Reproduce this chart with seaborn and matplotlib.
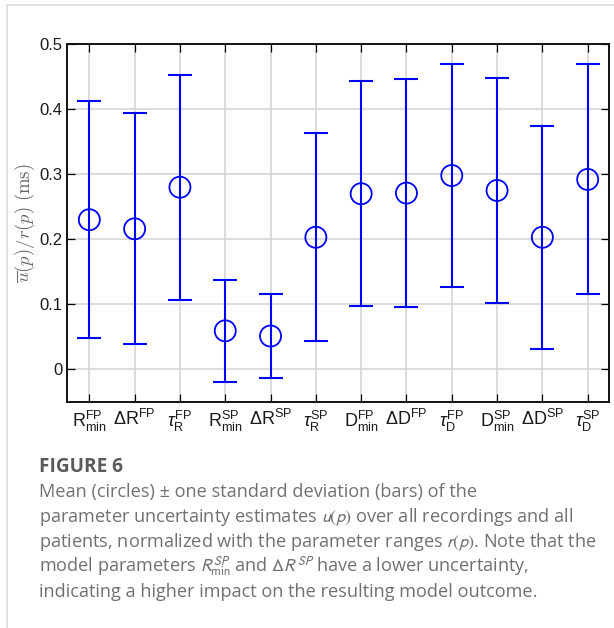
import seaborn as sns
import matplotlib.pyplot as plt
import pandas as pd
from matplotlib.lines import Line2D

params = [r'$\mathrm{R}^{\mathrm{FP}}_{\mathrm{min}}$', r'$\Delta\mathrm{R}^{\mathrm{FP}}$', r'$\tau^{\mathrm{FP}}_{\mathrm{R}}$',
          r'$\mathrm{R}^{\mathrm{SP}}_{\mathrm{min}}$', r'$\Delta\mathrm{R}^{\mathrm{SP}}$', r'$\tau^{\mathrm{SP}}_{\mathrm{R}}$',
          r'$\mathrm{D}^{\mathrm{FP}}_{\mathrm{min}}$', r'$\Delta\mathrm{D}^{\mathrm{FP}}$', r'$\tau^{\mathrm{FP}}_{\mathrm{D}}$',
          r'$\mathrm{D}^{\mathrm{SP}}_{\mathrm{min}}$', r'$\Delta\mathrm{D}^{\mathrm{SP}}$', r'$\tau^{\mathrm{SP}}_{\mathrm{D}}$']
mean_u = [0.230, 0.216, 0.280, 0.059, 0.051, 0.203, 0.270, 0.271, 0.298, 0.275, 0.203, 0.292]
std_u = [0.182, 0.178, 0.173, 0.078, 0.065, 0.160, 0.173, 0.176, 0.171, 0.173, 0.172, 0.177]
yticks = [0, 0.1, 0.2, 0.3, 0.4, 0.5]
ytick_labels = ['0', '0.1', '0.2', '0.3', '0.4', '0.5']

caption_title = 'FIGURE 6'
caption_lines = [
    'Mean (circles) \u00b1 one standard deviation (bars) of the',
    'parameter uncertainty estimates $u(p)$ over all recordings and all',
    'patients, normalized with the parameter ranges $r(p)$. Note that the',
    r'model parameters $R^{SP}_{\mathrm{min}}$ and $\Delta R^{SP}$ have a lower uncertainty,',
    'indicating a higher impact on the resulting model outcome.',
]

df = pd.DataFrame({'x': range(len(params)), 'mean': mean_u, 'std': std_u})

sns.set_theme(style='whitegrid')
plt.rcParams['font.family'] = ['Liberation Sans', 'DejaVu Sans']
plt.rcParams['mathtext.fontset'] = 'custom'
plt.rcParams['mathtext.rm'] = 'Liberation Sans'
plt.rcParams['mathtext.it'] = 'Liberation Sans:italic'
plt.rcParams['mathtext.bf'] = 'Liberation Sans:bold'

fig = plt.figure(figsize=(6.14, 6.28), dpi=100)
ax = fig.add_axes([0.1086, 0.3604, 0.8832, 0.5691])
ax.set_facecolor('white')

ax.errorbar(df['x'], df['mean'], yerr=df['std'], fmt='none', ecolor='#0000ff',
            elinewidth=1.5, capsize=8.5, capthick=1.5, zorder=3)
sns.scatterplot(data=df, x='x', y='mean', ax=ax, marker='o', s=21 ** 2 * 0.52,
                facecolor='none', edgecolor='#0000ff', linewidth=1.3, zorder=4)

ax.set_xlim(-0.5, 11.47)
ax.set_ylim(-0.05, 0.5)
ax.set_xticks(range(len(params)))
ax.set_xticklabels(params, fontsize=13, color='#1a1a1a')
ax.set_yticks(yticks)
ax.set_yticklabels(ytick_labels, fontsize=12, color='#1a1a1a')
ax.tick_params(axis='both', which='both', direction='in', length=5.5, width=0.9,
               color='black', top=True, right=True, bottom=True, left=True)
ax.tick_params(axis='x', pad=5)
ax.tick_params(axis='y', pad=3)
ax.grid(True, color='#d6d6d6', linewidth=1.2)
ax.set_axisbelow(True)
for s in ax.spines.values():
    s.set_color('#111111')
    s.set_linewidth(1.4)
ax.set_xlabel('')
ax.set_ylabel(r'$\overline{u}(p)/r(p)\ (\mathrm{ms})$', fontsize=13.5, color='#666666',
              math_fontfamily='cm', labelpad=2)

# card frame
fig.add_artist(Line2D([7 / 614, 1], [1 - 5 / 628, 1 - 5 / 628], transform=fig.transFigure,
                      color='#dcdcdc', linewidth=1.2))
fig.add_artist(Line2D([7 / 614, 7 / 614], [0, 1 - 5 / 628], transform=fig.transFigure,
                      color='#dcdcdc', linewidth=1.2))

fig.text(39 / 614, 1 - 472 / 628, caption_title, fontsize=13.7, fontweight='bold',
         color='#5a5a5a', family=['Open Sans', 'DejaVu Sans'], va='baseline')
for i, line in enumerate(caption_lines):
    fig.text(39 / 614, 1 - (497 + 25 * i) / 628, line, fontsize=13.1, color='#707070',
             family=['Open Sans', 'DejaVu Sans'], math_fontfamily='stixsans', va='baseline')

fig.savefig('out.png', dpi=100)
